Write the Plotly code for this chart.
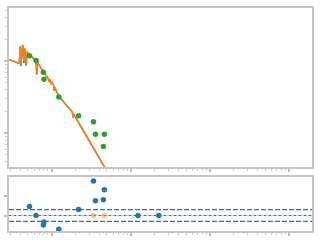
import plotly.graph_objects as go

# Model spectrum (orange) and its twin (blue, slightly deeper absorption tips)
model_x = [0.2926, 0.3835, 0.3924, 0.4016, 0.4097, 0.4303, 0.4403, 0.4467, 0.4532,
           0.4638, 0.4773, 0.4870, 0.5263, 0.6365, 0.6494, 0.6607, 0.7875, 0.9094,
           0.9306, 0.9522, 0.9857, 1.0145, 1.0684, 1.0839, 1.0996, 1.2338, 1.8302,
           1.8674, 1.8999, 4.5576, 13.335]
model_orange = [1.0551, 0.9388, 0.9538, 1.6053, 0.9097, 1.6827, 1.5068, 1.0, 1.5068,
                1.4372, 0.9097, 1.3490, 1.2274, 1.0223, 0.6849, 0.9689, 0.7182, 0.5757,
                0.5157, 0.5579, 0.4918, 0.5076, 0.4544, 0.3882, 0.4335, 0.3264, 0.1970,
                0.1656, 0.1849, 0.03421, 0.00469]
model_blue = [1.0551, 0.9388, 0.9538, 1.6053, 0.8541, 1.6827, 1.5068, 0.9388, 1.5068,
              1.4372, 0.8677, 1.3490, 1.2274, 1.0223, 0.6531, 0.9689, 0.7182, 0.5757,
              0.5157, 0.5579, 0.4918, 0.5076, 0.4544, 0.3882, 0.4335, 0.3264, 0.1970,
              0.1656, 0.1849, 0.03421, 0.00469]

# Observed data (green)
data_x = [0.5263, 0.6365, 0.7875, 0.8012, 1.2338, 2.194, 3.380, 3.580, 4.637, 4.506]
data_y = [1.1971, 1.0223, 0.7070, 0.5615, 0.3182, 0.1748, 0.1446, 0.0969, 0.0969, 0.0657]

# Residuals (blue)
res_x = [0.5263, 0.6365, 0.7875, 0.8012, 1.2338, 2.194, 3.380, 3.580, 4.637, 4.506, 12.34, 22.58]
res_y = [0.45, 0.0, -0.485, -0.335, -0.70, 0.30, 1.75, 0.75, 1.30, 0.80, 0.0, 0.0]
# Faded (orange) residuals
lim_x = [3.380, 4.637]
lim_y = [0.0, 0.0]

band = 0.3
x_range = [-0.5375, 3.2875]

BLUE = "#1f77b4"
ORANGE = "#ff7f0e"
GREEN = "#2ca02c"
SPINE = "#c4c4c4"
TICK = "#cccccc"

fig = go.Figure()

fig.add_trace(go.Scatter(x=model_x, y=model_blue, mode="lines",
                         line=dict(color=BLUE, width=1.5), xaxis="x", yaxis="y"))
fig.add_trace(go.Scatter(x=model_x, y=model_orange, mode="lines",
                         line=dict(color=ORANGE, width=1.5), xaxis="x", yaxis="y"))
fig.add_trace(go.Scatter(x=data_x, y=data_y, mode="markers",
                         marker=dict(color=GREEN, size=5.5), xaxis="x", yaxis="y"))

xs = [10 ** x_range[0], 10 ** x_range[1]]
fig.add_trace(go.Scatter(x=xs, y=[0, 0], mode="lines",
                         line=dict(color="rgba(31,119,180,0.35)", width=1.2),
                         xaxis="x2", yaxis="y2"))
fig.add_trace(go.Scatter(x=xs, y=[0, 0], mode="lines",
                         line=dict(color=BLUE, width=1.2, dash="2px,3px"),
                         xaxis="x2", yaxis="y2"))
for b in (band, -band):
    fig.add_trace(go.Scatter(x=xs, y=[b, b], mode="lines",
                             line=dict(color=BLUE, width=1.2, dash="5px,2px"),
                             xaxis="x2", yaxis="y2"))
fig.add_trace(go.Scatter(x=lim_x, y=lim_y, mode="markers",
                         marker=dict(color=ORANGE, size=5.5, opacity=0.45),
                         xaxis="x2", yaxis="y2"))
fig.add_trace(go.Scatter(x=res_x, y=res_y, mode="markers",
                         marker=dict(color=BLUE, size=5.5), xaxis="x2", yaxis="y2"))

axis_common = dict(showline=True, linecolor=SPINE, linewidth=2, mirror=True,
                   showgrid=False, zeroline=False, showticklabels=False,
                   ticks="outside", ticklen=3, tickcolor="#bbbbbb", tickwidth=1.5)
minor = dict(ticks="outside", ticklen=2, tickcolor=TICK, tickwidth=1)

fig.update_layout(
    width=320, height=240,
    margin=dict(l=7, r=7, t=6, b=8),
    paper_bgcolor="white", plot_bgcolor="white",
    showlegend=False,
    xaxis=dict(type="log", range=x_range, domain=[0, 1], anchor="y", dtick=1,
               minor=minor, **axis_common),
    yaxis=dict(type="log", range=[-1.466, 0.740], domain=[0.2876, 1], anchor="x", dtick=1,
               minor=minor, **axis_common),
    xaxis2=dict(type="log", range=x_range, domain=[0, 1], anchor="y2", dtick=1,
                minor=minor, **axis_common),
    yaxis2=dict(range=[-0.785, 1.965], domain=[0, 0.2434], anchor="x2",
                tickvals=[0, 1], **axis_common),
)

fig.write_html("out.html")
